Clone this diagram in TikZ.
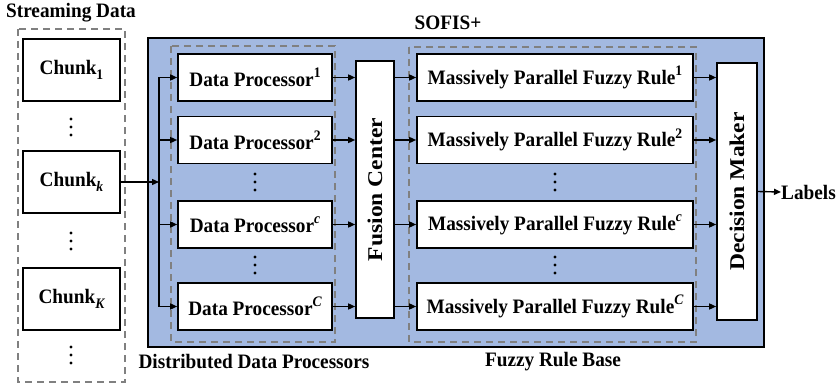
\documentclass[tikz,border=0pt]{standalone}
\usepackage{fontspec}
\setmainfont{Liberation Serif}[FakeStretch=0.94]
\newfontfamily\widefont[FakeStretch=1.12]{Liberation Serif}
\usetikzlibrary{arrows.meta}
\definecolor{sofisblue}{RGB}{163,185,225}
\definecolor{dashgray}{RGB}{128,128,128}
% index marks slightly larger than the default script size
\newcommand{\upidx}[1]{\raisebox{0.42em}{\fontsize{14.5}{14.5}\selectfont #1}}
\newcommand{\dnidx}[1]{\raisebox{-0.22em}{\fontsize{14.5}{14.5}\selectfont #1}}
\tikzset{
  txt/.style={font=\fontsize{20.5}{22}\selectfont\bfseries, inner sep=0pt},
  box/.style={draw=black, line width=1.6pt, fill=white, inner sep=0pt,
              font=\fontsize{20.5}{22}\selectfont\bfseries},
  chunkbox/.style={box, minimum width=97pt, minimum height=62pt},
  dpbox/.style={box, minimum width=154pt, minimum height=47pt},
  rulebox/.style={box, minimum width=276pt, minimum height=47pt},
  tallbox/.style={box, minimum height=257pt, font=\fontsize{21}{23}\widefont\bfseries},
  group/.style={draw=dashgray, line width=1.8pt, dash pattern=on 7pt off 5pt},
  arr/.style={line width=1.4pt, -{Triangle[length=7pt,width=6pt]}},
  link/.style={line width=1.4pt},
  vdot/.style={fill=black, circle, inner sep=0pt, minimum size=3.2pt}
}
\newcommand{\vdotsat}[2]{%
  \foreach \dy in {-8,0,8} {\node[vdot] at (#1,#2+\dy) {};}}
\begin{document}
\begin{tikzpicture}[x=1pt,y=-1pt]
\useasboundingbox (0,0) rectangle (837,385);

% streaming data column
\node[txt] (sdtitle) at (71,13) {Streaming Data};
\draw[group] (18,29) rectangle (125,382);
\node[chunkbox] (ch1) at (71.5,70)  {Chunk\dnidx{1}};
\node[chunkbox] (chk) at (71.5,182) {Chunk\dnidx{\itshape k}};
\node[chunkbox] (chK) at (71.5,299) {Chunk\dnidx{\itshape K}};
\vdotsat{71}{127}
\vdotsat{71}{241}
\vdotsat{71}{355}

% SOFIS+ frame
\node[txt] (sofis) at (448,23) {SOFIS+};
\draw[fill=sofisblue, draw=black, line width=2.2pt] (148,38) rectangle (764,347);

% group outlines
\draw[group] (171,46) rectangle (335,342);
\draw[group] (409,47) rectangle (696,342);
\node[txt] (ddplabel) at (254,362) {Distributed Data Processors};
\node[txt] (frblabel) at (553,362) {Fuzzy Rule Base};

% data processors
\node[dpbox] (dp1) at (255,77.5)  {Data Processor\upidx{1}};
\node[dpbox] (dp2) at (255,140)   {Data Processor\upidx{2}};
\node[dpbox] (dpc) at (255,224.5) {Data Processor\upidx{\itshape c}};
\node[dpbox] (dpC) at (255,306.5) {Data Processor\upidx{\itshape C}};
\vdotsat{255}{182}
\vdotsat{255}{265}

% fusion center
\node[tallbox, minimum width=38pt] (fusion) at (375,189.5)
  {\rotatebox{90}{Fusion Center}};

% fuzzy rules
\node[rulebox] (mp1) at (555,77.5)  {Massively Parallel Fuzzy Rule\upidx{1}};
\node[rulebox] (mp2) at (555,140)   {Massively Parallel Fuzzy Rule\upidx{2}};
\node[rulebox] (mpc) at (555,224.5) {Massively Parallel Fuzzy Rule\upidx{\itshape c}};
\node[rulebox] (mpC) at (555,306.5) {Massively Parallel Fuzzy Rule\upidx{\itshape C}};
\vdotsat{555}{182}
\vdotsat{555}{265}

% decision maker
\node[tallbox, minimum width=40pt] (dm) at (737,191.5)
  {\rotatebox{90}{Decision Maker}};
\node[txt, anchor=west] (labels) at (781,192) {Labels};

% distribution from chunk k to the processors
\coordinate (split) at (159,182);
\draw[arr] (chk.east) -- (split);
\draw[link] (split |- dp1.west) -- (split |- dpC.west);
\foreach \n in {dp1,dp2,dpc,dpC} {
  \draw[arr] (split |- \n.west) -- (\n.west);
  \draw[arr] (\n.east) -- (\n.east -| fusion.west);
}
\foreach \n in {mp1,mp2,mpc,mpC} {
  \draw[arr] (fusion.east |- \n.west) -- (\n.west);
  \draw[arr] (\n.east) -- (\n.east -| dm.west);
}
\draw[arr] (dm.east) -- (labels.west);
\end{tikzpicture}
\end{document}
